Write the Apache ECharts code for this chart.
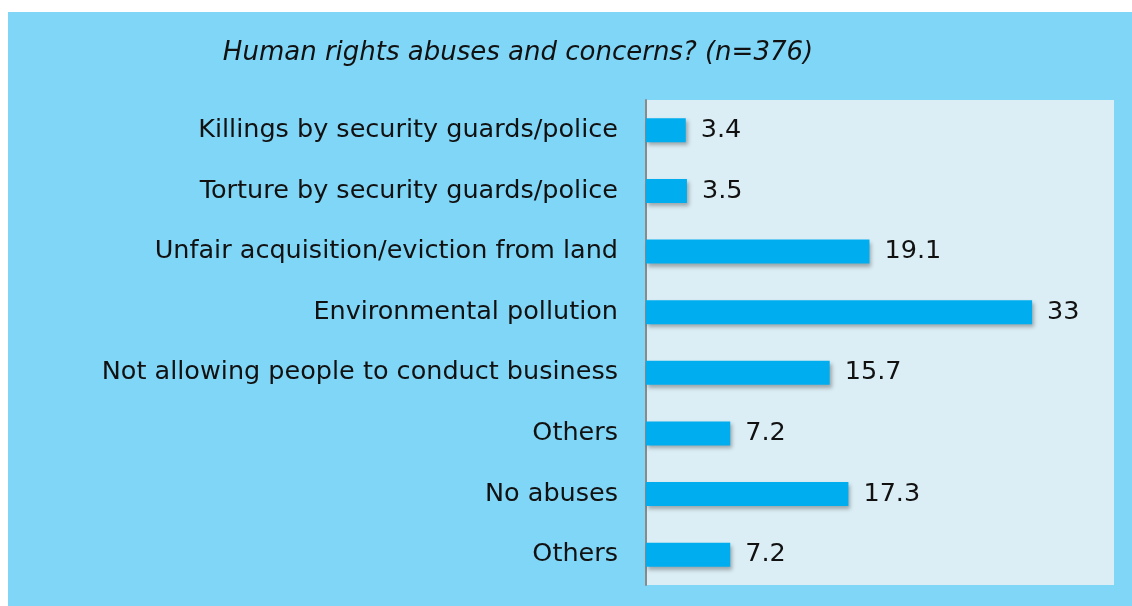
<!DOCTYPE html>
<html>
<head>
<meta charset="utf-8">
<script src="https://cdn.jsdelivr.net/npm/echarts@6/dist/echarts.min.js"></script>
<style>
  html, body { margin: 0; padding: 0; background: #ffffff; }
  #chart { width: 1132px; height: 606px; }
</style>
</head>
<body>
<div id="chart"></div>
<script>
// Survey responses, top to bottom
const categories = [
  'Killings by security guards/police',
  'Torture by security guards/police',
  'Unfair acquisition/eviction from land',
  'Environmental pollution',
  'Not allowing people to conduct business',
  'Others',
  'No abuses',
  'Others'
];
const percentages = [3.4, 3.5, 19.1, 33, 15.7, 7.2, 17.3, 7.2];
const titleText = 'Human rights abuses and concerns? (n=376)';

const FONT = 'DejaVu Sans, sans-serif';

const chart = echarts.init(document.getElementById('chart'), null, { renderer: 'canvas' });
chart.setOption({
  backgroundColor: '#ffffff',
  animation: false,
  graphic: [{
    type: 'rect',
    z: -10,
    silent: true,
    shape: { x: 8, y: 12, width: 1124, height: 594 },
    style: { fill: '#80D6F7' }
  }],
  title: {
    text: titleText,
    left: 513,
    top: 35,
    textAlign: 'center',
    textStyle: { fontFamily: FONT, fontStyle: 'italic', fontWeight: 'normal', fontSize: 26, color: '#111' }
  },
  grid: {
    left: 646, top: 100, right: 18, bottom: 21,
    show: true, backgroundColor: '#DCEEF5', borderWidth: 0
  },
  xAxis: {
    type: 'value', min: 0, max: 40,
    axisLine: { show: false }, axisTick: { show: false },
    axisLabel: { show: false }, splitLine: { show: false }
  },
  yAxis: {
    type: 'category', data: categories, inverse: true,
    axisLine: { show: true, lineStyle: { color: '#8a8a8a', width: 2 } },
    axisTick: { show: false },
    axisLabel: { margin: 28, fontFamily: FONT, fontSize: 25.5, color: '#111', padding: [4, 0, 0, 0] }
  },
  series: [{
    type: 'bar',
    data: percentages,
    barWidth: 24,
    itemStyle: {
      color: '#00AEEF',
      shadowColor: 'rgba(0,0,0,0.3)', shadowBlur: 4, shadowOffsetX: 2, shadowOffsetY: 3
    },
    label: {
      show: true, position: 'right', distance: 15,
      fontFamily: FONT, fontSize: 25.5, color: '#111', padding: [4, 0, 0, 0]
    }
  }]
});
</script>
</body>
</html>
